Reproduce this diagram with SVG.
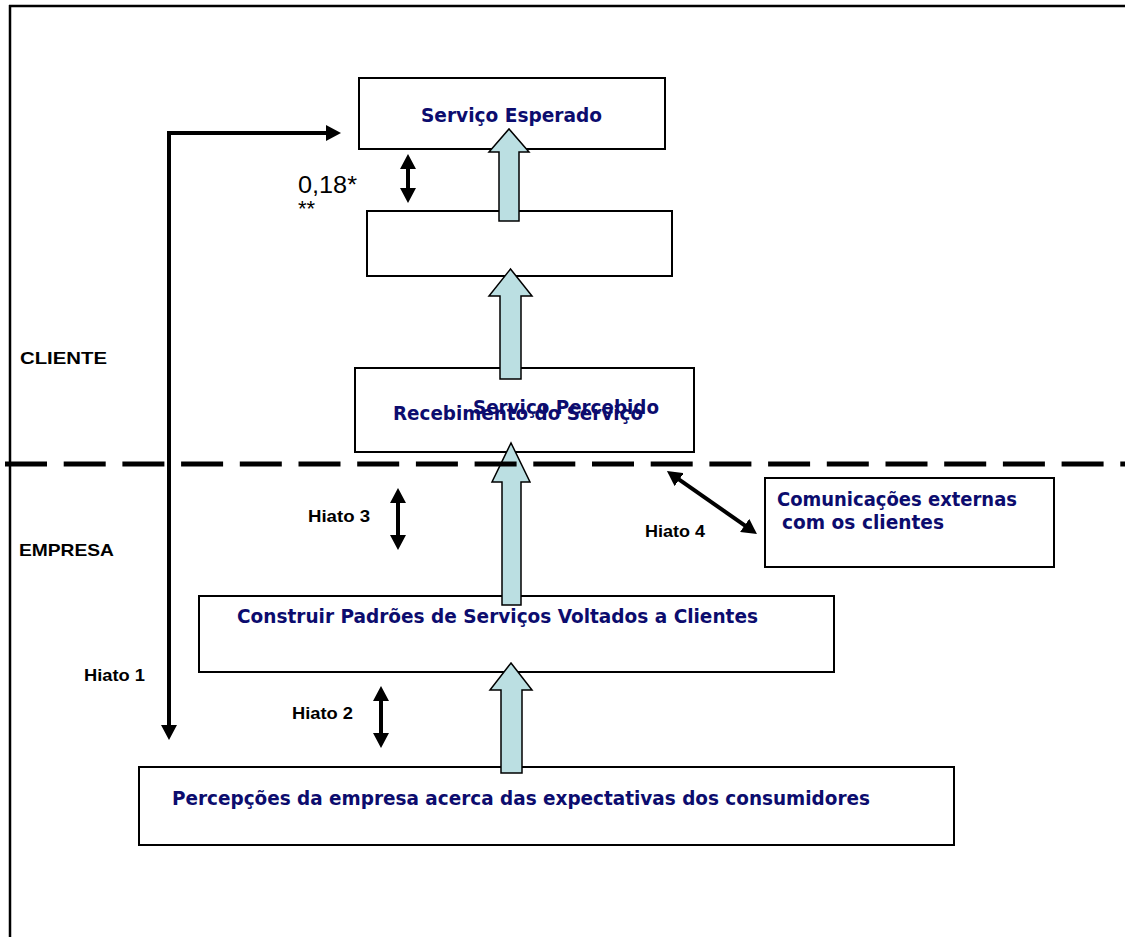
<svg xmlns="http://www.w3.org/2000/svg" width="1125" height="937" viewBox="0 0 1125 937">
  <style>
    .box { fill: #ffffff; stroke: #000000; stroke-width: 2; }
    .up { fill: #bbdfe2; stroke: #000000; stroke-width: 1.5; stroke-linejoin: miter; }
    .link { fill: none; stroke: #000000; stroke-width: 4; marker-start: url(#head); marker-end: url(#head); }
    .lbl { font-family: "DejaVu Sans", Verdana, sans-serif; font-weight: bold; font-size: 19px; fill: #0c0c6e; }
    .lblc { font-family: "DejaVu Sans Condensed", "DejaVu Sans", sans-serif; font-weight: bold; font-size: 19px; fill: #0c0c6e; }
    .tag { font-family: "Liberation Sans", Arial, sans-serif; font-weight: bold; font-size: 17px; fill: #000000; }
    .num { font-family: "Liberation Sans", Arial, sans-serif; fill: #000000; }
  </style>
  <defs>
    <marker id="head" viewBox="0 0 15 16" refX="7" refY="8" markerWidth="15" markerHeight="16" markerUnits="userSpaceOnUse" orient="auto-start-reverse">
      <path d="M0,0 L15,8 L0,16 z" fill="#000000"/>
    </marker>
  </defs>

  <!-- page frame -->
  <g id="frame" stroke="#000000" stroke-width="2.5" fill="none">
    <line x1="9" y1="6" x2="1125" y2="6"/>
    <line x1="10" y1="5" x2="10" y2="937"/>
  </g>

  <!-- boxes -->
  <g id="servico-esperado">
    <rect class="box" x="359" y="78" width="306" height="71"/>
    <text class="lbl" x="421" y="122" textLength="181" lengthAdjust="spacingAndGlyphs">Serviço Esperado</text>
  </g>
  <g id="caixa-intermediaria">
    <rect class="box" x="367" y="211" width="305" height="65"/>
  </g>
  <g id="servico-percebido">
    <rect class="box" x="355" y="368" width="339" height="84"/>
    <text class="lbl" x="473" y="414" textLength="186" lengthAdjust="spacingAndGlyphs">Serviço Percebido</text>
    <text class="lbl" x="393" y="420" textLength="250" lengthAdjust="spacingAndGlyphs">Recebimento do Serviço</text>
  </g>
  <g id="comunicacoes">
    <rect class="box" x="765" y="478" width="289" height="89"/>
    <text class="lbl" x="777" y="506" textLength="240" lengthAdjust="spacingAndGlyphs">Comunicações externas</text>
    <text class="lbl" x="782" y="529" textLength="162" lengthAdjust="spacingAndGlyphs">com os clientes</text>
  </g>
  <g id="padroes">
    <rect class="box" x="199" y="596" width="635" height="76"/>
    <text class="lblc" x="237" y="623" textLength="521" lengthAdjust="spacingAndGlyphs">Construir Padrões de Serviços Voltados a Clientes</text>
  </g>
  <g id="percepcoes">
    <rect class="box" x="139" y="767" width="815" height="78"/>
    <text class="lbl" x="172" y="805" textLength="698" lengthAdjust="spacingAndGlyphs">Percepções da empresa acerca das expectativas dos consumidores</text>
  </g>

  <!-- connectors -->
  <g id="connectors">
    <polygon class="up" points="499,221 519,221 519,152 529,152 509,129 489,152 499,152"/>
    <polygon class="up" points="500,379 521,379 521,296 532,296 510.5,269 489,296 500,296"/>
    <polygon class="up" points="502,605 521,605 521,482 530,482 511,443 492,482 502,482"/>
    <polygon class="up" points="501,773 522,773 522,690 532,690 511,663 490,690 501,690"/>

    <path class="link" d="M169,732 V133 H333"/>
    <line class="link" x1="408" y1="162" x2="408" y2="195"/>
    <line class="link" x1="398" y1="496" x2="398" y2="542"/>
    <line class="link" x1="381" y1="694" x2="381" y2="740"/>
    <line class="link" x1="673.5" y1="475.6" x2="750.4" y2="529.4"/>
  </g>

  <!-- boundary between customer and company -->
  <line id="fronteira" x1="5" y1="464" x2="1125" y2="464" stroke="#000000" stroke-width="5" stroke-dasharray="42 16.7"/>

  <!-- side labels -->
  <g id="labels">
    <text class="tag" x="20" y="364" textLength="87" lengthAdjust="spacingAndGlyphs">CLIENTE</text>
    <text class="tag" x="19" y="556" textLength="95" lengthAdjust="spacingAndGlyphs">EMPRESA</text>
    <text class="tag" x="84" y="681" textLength="61" lengthAdjust="spacingAndGlyphs">Hiato 1</text>
    <text class="tag" x="308" y="522" textLength="62" lengthAdjust="spacingAndGlyphs">Hiato 3</text>
    <text class="tag" x="292" y="719" textLength="61" lengthAdjust="spacingAndGlyphs">Hiato 2</text>
    <text class="tag" x="645" y="537" textLength="60" lengthAdjust="spacingAndGlyphs">Hiato 4</text>
    <text class="num" x="298" y="193" font-size="24" textLength="59" lengthAdjust="spacingAndGlyphs">0,18*</text>
    <text class="num" x="298" y="216" font-size="22">**</text>
  </g>
</svg>
